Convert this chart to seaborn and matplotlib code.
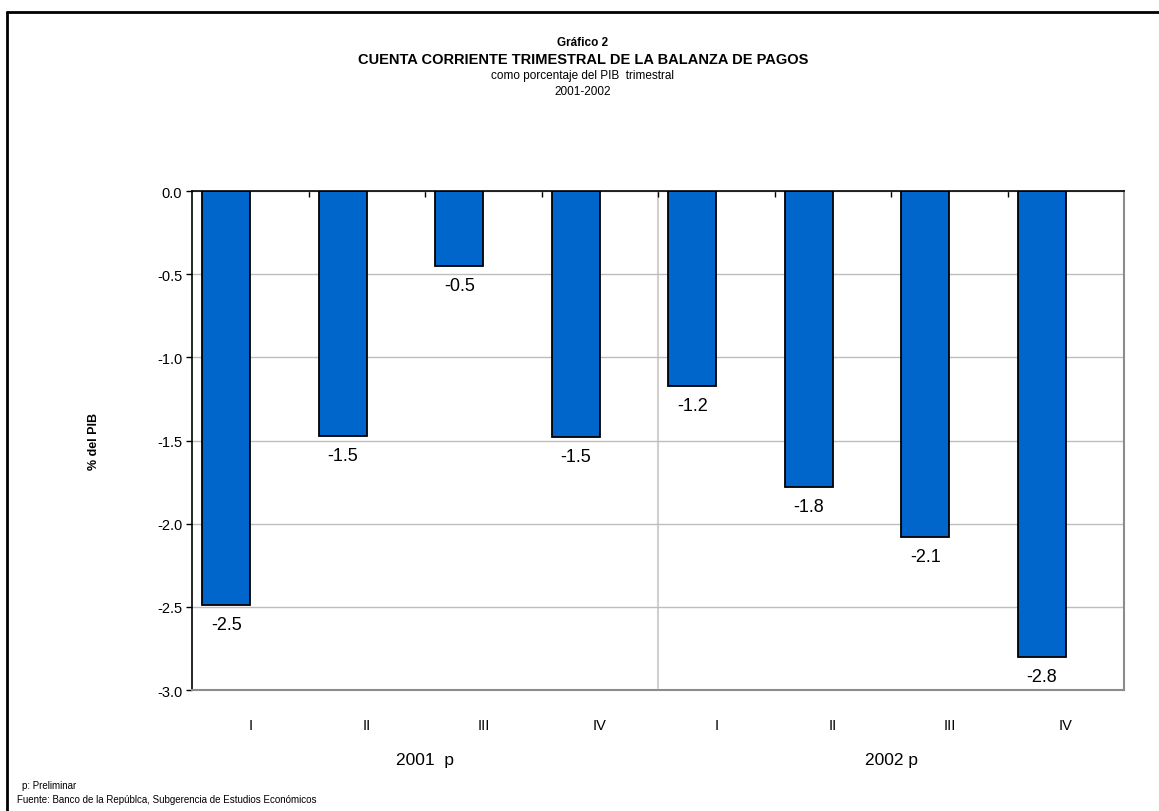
import numpy as np
import pandas as pd
import seaborn as sns
import matplotlib.pyplot as plt
from matplotlib.lines import Line2D
import matplotlib.transforms as mtransforms

# Datos: cuenta corriente trimestral (% del PIB)
years = ['2001  p', '2002 p']
quarters = ['I', 'II', 'III', 'IV']
periods = ['2001-I', '2001-II', '2001-III', '2001-IV', '2002-I', '2002-II', '2002-III', '2002-IV']
values = [-2.49, -1.47, -0.45, -1.48, -1.17, -1.78, -2.08, -2.80]
yticks = [0.0, -0.5, -1.0, -1.5, -2.0, -2.5, -3.0]

df = pd.DataFrame({'periodo': periods, 'valor': values, 'serie': 'cc'})

sns.set_theme(style='white')
plt.rcParams['font.family'] = ['Liberation Sans', 'DejaVu Sans']
plt.rcParams.update({'text.color': 'black', 'axes.labelcolor': 'black',
                     'xtick.color': 'black', 'ytick.color': 'black'})

fig = plt.figure(figsize=(11.59, 8.12), dpi=100)
ax = fig.add_axes([0.1657, 0.149, 0.8043, 0.6145])

blue = '#0066CC'
# second (empty) hue level keeps the Excel-style offset of the bars
sns.barplot(data=df, x='periodo', y='valor', hue='serie', hue_order=['cc', 'vacio'],
            palette={'cc': blue, 'vacio': blue}, width=0.825, dodge=True, saturation=1,
            edgecolor='black', linewidth=1.3, legend=False, ax=ax, order=periods)

ax.set_ylim(-3.0, 0.0)
ax.set_xlim(-0.5, len(periods) - 0.5)
ax.set_yticks(yticks)
ax.set_yticklabels([f'{v:.1f}' for v in yticks], fontsize=10.5)
ax.yaxis.grid(True, color='#bdbdbd', linewidth=1)
ax.set_axisbelow(True)
ax.tick_params(axis='y', direction='out', length=4, width=1, color='black', left=True, pad=3)

# category labels at bottom, boundary ticks on the zero line
ax.set_xticks(range(len(periods)))
ax.set_xticklabels(quarters * 2, fontsize=10.5)
ax.tick_params(axis='x', which='major', length=0, pad=20, bottom=True)
ax.set_xticks(np.arange(0.5, len(periods) - 1, 1.0), minor=True)
ax.tick_params(axis='x', which='minor', top=True, bottom=False, direction='in', length=4,
               width=1, color='black')
ax.set_xlabel('')
ax.set_ylabel('% del PIB', fontsize=9, fontweight='bold', labelpad=41)

for side in ['left', 'top']:
    ax.spines[side].set_color('black')
    ax.spines[side].set_linewidth(1.2)
for side in ['right', 'bottom']:
    ax.spines[side].set_color('#8c8c8c')
    ax.spines[side].set_linewidth(1.5)
    ax.spines[side].set_visible(True)

# separator between years
ax.axvline(3.5, ymin=0.005, ymax=1, color='#d0d0d0', linewidth=1.5, zorder=0)

ax.bar_label(ax.containers[0], fmt='%.1f', padding=8, fontsize=13)

trans = mtransforms.blended_transform_factory(ax.transData, ax.transAxes)
for i, yr in enumerate(years):
    ax.text(1.5 + 4 * i, -0.14, yr, transform=trans, ha='center', va='center', fontsize=12.5)

# titles
fig.text(0.503, 0.947, 'Gráfico 2', ha='center', va='center', fontsize=8.5, fontweight='bold')
fig.text(0.503, 0.926, 'CUENTA CORRIENTE TRIMESTRAL DE LA BALANZA DE PAGOS', ha='center',
         va='center', fontsize=10.5, fontweight='bold')
fig.text(0.503, 0.906, 'como porcentaje del PIB  trimestral', ha='center', va='center', fontsize=8.5)
fig.text(0.503, 0.887, '2001-2002', ha='center', va='center', fontsize=8.5)

# footnotes
fig.text(0.019, 0.032, 'p: Preliminar', ha='left', va='center', fontsize=7)
fig.text(0.0145, 0.015, 'Fuente: Banco de la Repúblca, Subgerencia de Estudios Económicos',
         ha='left', va='center', fontsize=7)

# outer frame
fig.add_artist(Line2D([7 / 1159, 7 / 1159], [0, 1 - 13 / 812], transform=fig.transFigure,
                      color='black', linewidth=2))
fig.add_artist(Line2D([7 / 1159, 1], [1 - 13 / 812, 1 - 13 / 812], transform=fig.transFigure,
                      color='black', linewidth=2))

fig.savefig('out.png', dpi=100, facecolor='white')
